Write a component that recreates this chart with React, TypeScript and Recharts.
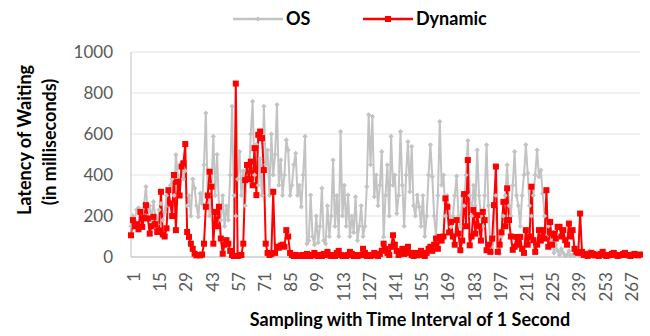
import React from 'react';
import { LineChart, Line, XAxis, YAxis, CartesianGrid } from 'recharts';

// latency samples (ms), one per second
const osLatency = [
  150, 200, 180, 230, 240, 150, 210, 260, 343, 200,
  250, 180, 270, 200, 160, 230, 260, 180, 220, 300,
  250, 350, 380, 300, 498, 400, 300, 460, 380, 420,
  250, 300, 200, 380, 335, 250, 196, 310, 260, 450,
  702, 300, 200, 350, 588, 300, 500, 250, 180, 300,
  150, 250, 180, 400, 735, 300, 200, 380, 514, 300,
  420, 250, 450, 380, 600, 759, 400, 550, 350, 480,
  300, 735, 450, 522, 300, 600, 400, 500, 743, 350,
  473, 300, 400, 571, 522, 300, 350, 450, 506, 300,
  350, 245, 400, 588, 65, 80, 302, 100, 60, 200,
  70, 150, 335, 80, 65, 250, 100, 200, 473, 150,
  300, 100, 612, 200, 350, 150, 302, 100, 200, 120,
  294, 80, 150, 250, 100, 150, 343, 694, 450, 686,
  294, 400, 250, 350, 514, 98, 300, 450, 200, 588,
  350, 400, 212, 300, 612, 350, 150, 400, 563, 318,
  539, 250, 200, 302, 245, 150, 300, 100, 200, 400,
  547, 392, 200, 100, 300, 661, 351, 400, 200, 300,
  250, 147, 200, 300, 395, 200, 150, 300, 250, 400,
  568, 300, 200, 350, 250, 522, 300, 200, 150, 300,
  547, 250, 50, 20, 100, 300, 50, 16, 100, 200,
  300, 449, 250, 200, 350, 514, 300, 250, 150, 300,
  400, 547, 408, 250, 200, 300, 400, 522, 392, 424,
  310, 200, 100, 150, 50, 80, 20, 60, 30, 10,
  40, 20, 5, 10, 30, 5, 10, 5, 20, 10,
  5, 15, 25, 10, 5, 30, 10, 5, 8, 20,
  10, 5, 15, 30, 10, 5, 20, 10, 5, 8,
  15, 5, 10, 20, 10, 5, 8, 15, 5, 10,
  5, 8, 5,
];

const dynamicLatency = [
  106, 180, 150, 160, 135, 220, 147, 190, 253, 188,
  114, 150, 196, 160, 122, 130, 318, 110, 100, 140,
  326, 261, 200, 400, 131, 367, 300, 441, 457, 551,
  122, 98, 65, 40, 16, 8, 10, 8, 12, 65,
  245, 300, 416, 343, 65, 220, 150, 245, 90, 16,
  60, 82, 65, 30, 10, 5, 846, 5, 8, 10,
  65, 375, 449, 380, 465, 350, 531, 302, 596, 612,
  580, 424, 65, 20, 10, 15, 318, 20, 50, 45,
  55, 60, 50, 131, 100, 20, 10, 5, 10, 5,
  8, 5, 10, 5, 15, 8, 5, 10, 20, 8,
  5, 10, 5, 15, 10, 25, 8, 5, 10, 5,
  20, 30, 10, 5, 8, 5, 10, 25, 15, 5,
  10, 5, 8, 10, 40, 20, 5, 10, 5, 8,
  20, 10, 5, 15, 30, 65, 40, 20, 10, 50,
  106, 60, 30, 10, 20, 40, 15, 30, 50, 20,
  10, 5, 20, 8, 15, 30, 10, 5, 20, 40,
  50, 30, 60, 90, 40, 98, 80, 100, 286, 245,
  120, 171, 100, 60, 180, 114, 33, 80, 307, 150,
  473, 57, 100, 229, 114, 204, 150, 80, 220, 180,
  33, 60, 25, 90, 253, 441, 25, 60, 120, 269,
  150, 335, 180, 100, 35, 50, 98, 60, 98, 40,
  20, 131, 60, 100, 343, 82, 25, 60, 131, 80,
  131, 90, 326, 50, 171, 60, 114, 90, 147, 147,
  100, 131, 82, 60, 163, 100, 131, 40, 25, 20,
  212, 25, 10, 15, 5, 10, 20, 15, 8, 10,
  5, 15, 25, 10, 5, 8, 10, 15, 20, 10,
  5, 8, 10, 15, 20, 10, 8, 5, 10, 15,
  10, 8, 12,
];

const sampleLabels = osLatency.map((_, i) => String(i + 1));
const yTicks = [0, 200, 400, 600, 800, 1000];

const data = sampleLabels.map((sample, i) => ({
  sample,
  os: osLatency[i],
  dynamic: dynamicLatency[i],
}));

const FONT = 'Lato, "Open Sans", sans-serif';
const OS_COLOR = '#c3c3c3';
const DYN_COLOR = '#ff0000';

const osDot = (props: any) => {
  const { cx, cy, index } = props;
  if (cx == null || cy == null) return <g key={`os-${index}`} />;
  const r = 2.6;
  return (
    <path
      key={`os-${index}`}
      d={`M${cx},${cy - r}L${cx + r},${cy}L${cx},${cy + r}L${cx - r},${cy}Z`}
      fill={OS_COLOR}
    />
  );
};

const dynDot = (props: any) => {
  const { cx, cy, index } = props;
  if (cx == null || cy == null) return <g key={`dyn-${index}`} />;
  return <rect key={`dyn-${index}`} x={cx - 3} y={cy - 3} width={6} height={6} fill={DYN_COLOR} />;
};

const SampleTick = (props: any) => {
  const { x, y, payload } = props;
  return (
    <text
      x={x}
      y={y}
      dy={9}
      transform={`rotate(-90, ${x}, ${y})`}
      textAnchor="end"
      fontSize={17}
      fontFamily={FONT}
      fill="#595959"
    >
      {payload.value}
    </text>
  );
};

function ChartLegend() {
  return (
    <svg width={650} height={40} style={{ position: 'absolute', left: 0, top: 0 }}>
      <line x1={233} y1={19} x2={283} y2={19} stroke={OS_COLOR} strokeWidth={2.5} />
      <path d="M258,16.4L260.6,19L258,21.6L255.4,19Z" fill={OS_COLOR} />
      <text x={286} y={25} fontSize={18} fontWeight="bold" fontFamily={FONT} fill="#000">OS</text>
      <line x1={363} y1={19} x2={413} y2={19} stroke={DYN_COLOR} strokeWidth={2.5} />
      <rect x={385} y={16} width={6} height={6} fill={DYN_COLOR} />
      <text x={416} y={25} fontSize={18} fontWeight="bold" fontFamily={FONT} fill="#000">Dynamic</text>
    </svg>
  );
}

export default function App() {
  return (
    <div style={{ position: 'absolute', left: 0, top: 0, width: 650, height: 336, background: '#fff' }}>
      <LineChart width={650} height={336} data={data} margin={{ top: 52, right: 10, left: 0, bottom: 0 }}>
        <CartesianGrid vertical={false} stroke="#e3e3e3" />
        <XAxis
          dataKey="sample"
          interval={13}
          tick={<SampleTick />}
          tickLine={false}
          tickSize={6}
          tickMargin={9}
          height={79}
          axisLine={{ stroke: '#bfbfbf' }}
          label={{
            content: () => (
              <text x={410} y={326} textAnchor="middle" fontSize={18} fontWeight="bold" fontFamily={FONT} fill="#000">
                Sampling with Time Interval of 1 Second
              </text>
            ),
          }}
        />
        <YAxis
          width={131}
          domain={[0, 1000]}
          ticks={yTicks}
          tickLine={false}
          tickSize={6}
          tickMargin={12}
          axisLine={{ stroke: '#bfbfbf' }}
          tick={{ fontSize: 17, fontFamily: FONT, fill: '#595959' }}
          label={{
            content: () => (
              <g fontSize={18} fontWeight="bold" fontFamily={FONT} fill="#000" textAnchor="middle">
                <text x={31} y={140} transform="rotate(-90, 31, 140)">Latency of Waiting</text>
                <text x={56} y={142} transform="rotate(-90, 56, 142)">(in milliseconds)</text>
              </g>
            ),
          }}
        />
        <Line
          type="linear"
          dataKey="os"
          stroke={OS_COLOR}
          strokeWidth={2}
          dot={osDot}
          activeDot={false}
          isAnimationActive={false}
        />
        <Line
          type="linear"
          dataKey="dynamic"
          stroke={DYN_COLOR}
          strokeWidth={2}
          dot={dynDot}
          activeDot={false}
          isAnimationActive={false}
        />
      </LineChart>
      <ChartLegend />
    </div>
  );
}
